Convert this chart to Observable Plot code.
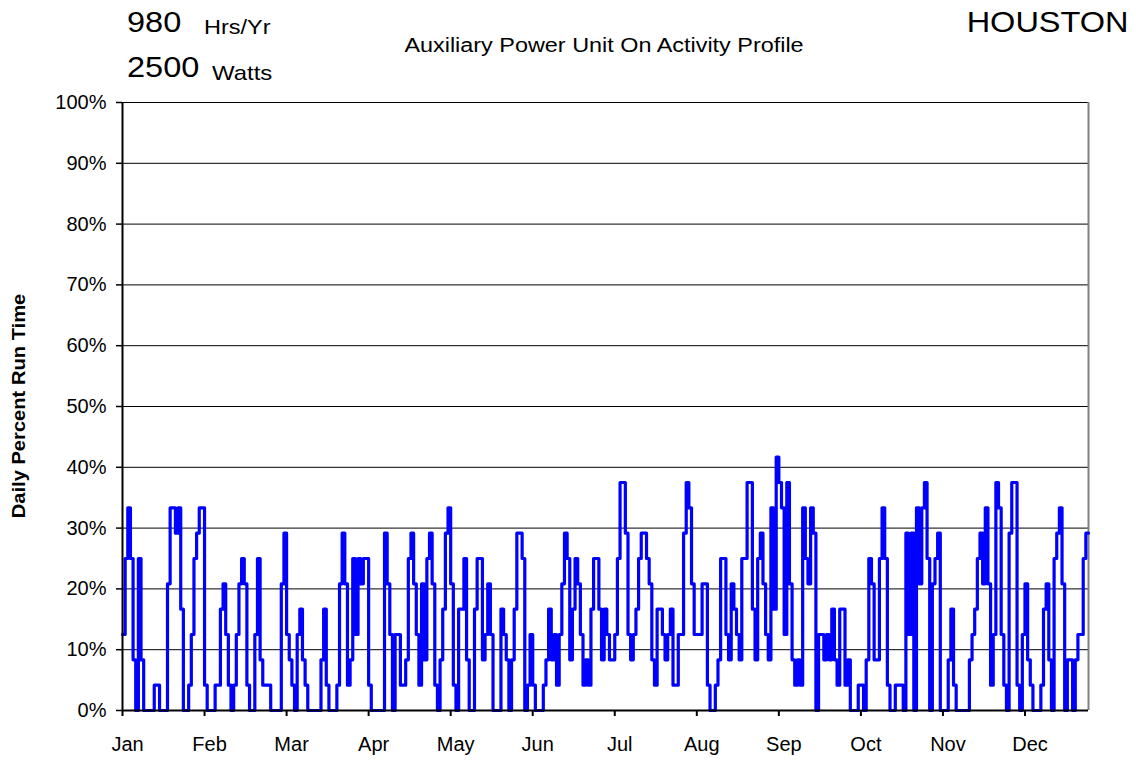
<!DOCTYPE html>
<html><head><meta charset="utf-8">
<script src="https://cdn.jsdelivr.net/npm/d3@7"></script>
<script src="https://cdn.jsdelivr.net/npm/@observablehq/plot@0.6"></script>
<style>
body{margin:0;background:#fff;}
#wrap{position:relative;width:1136px;height:762px;font-family:"Liberation Sans",Arial,sans-serif;color:#000;overflow:hidden;}
.t{position:absolute;white-space:nowrap;line-height:1;}
#chart{position:absolute;left:0;top:0;}
</style></head><body>
<div id="wrap">
<div id="chart"></div>
<div class="t" style="left:127px;top:8px;font-size:29px;transform:scaleX(1.12);transform-origin:left">980</div>
<div class="t" style="left:204px;top:16px;font-size:21px;transform:scaleX(1.12);transform-origin:left">Hrs/Yr</div>
<div class="t" style="left:127px;top:53px;font-size:29px;transform:scaleX(1.12);transform-origin:left">2500</div>
<div class="t" style="left:212px;top:62px;font-size:21px;transform:scaleX(1.14);transform-origin:left">Watts</div>
<div class="t" style="left:604px;top:35px;font-size:20px;transform:translateX(-50%) scaleX(1.17)">Auxiliary Power Unit On Activity Profile</div>
<div class="t" style="right:8px;top:8px;font-size:29px;transform:scaleX(1.12);transform-origin:right">HOUSTON</div>
<div class="t" style="left:18px;top:406px;font-size:19px;font-weight:bold;transform:translate(-50%,-50%) rotate(-90deg) scaleX(1.06)">Daily Percent Run Time</div>
</div>
<script>
// Daily run hours (out of 24) per month
const jan = [3,6,8,6,2,0,6,2,0,0, 0,0,1,1,0,0,0,5,8,8, 7,8,4,0,0,1,3,6,7,8, 8];
const feb = [1,0,0,0,1,1,4,5,3,1, 0,1,3,5,6,5,1,0,0,3, 6,2,1,1,1,0,0,0,0,5, 7];
const mar = [3,2,1,0,3,4,2,1,0,0, 0,0,0,2,4,1,0,0,0,1, 5,7,5,1,2,6,3,6,5,6, 6];
const apr = [1,0,0,0,0,0,7,5,3,0, 3,3,1,1,2,6,7,5,3,1, 5,2,6,7,5,1,0,2,4,7, 8];
const may = [5,1,0,4,4,6,2,0,0,4, 6,6,2,3,5,3,0,0,0,4, 3,2,0,2,4,7,7,6,0,1, 3];
const jun = [1,0,0,0,1,2,4,2,3,1, 3,5,7,6,2,4,6,5,3,1, 2,1,4,6,6,4,2,4,3,2, 2];
const jul = [3,6,9,9,7,3,2,3,4,6, 7,7,6,5,2,1,4,4,3,2, 3,4,1,1,3,3,7,9,8,5, 3];
const aug = [3,3,5,5,1,0,0,1,2,6, 6,3,2,5,4,3,2,6,6,9, 9,4,2,6,7,5,3,2,8,4, 10];
const sep = [9,8,3,9,5,2,1,2,1,8, 6,5,8,7,0,3,3,2,3,2, 4,2,1,4,4,1,2,0,0,0, 1];
const oct = [1,0,2,6,5,2,2,6,8,6, 1,0,0,1,1,1,0,7,3,7, 0,8,5,8,9,6,0,5,6,7, 0];
const nov = [0,0,2,4,1,0,0,0,0,0, 2,3,4,6,7,5,8,5,1,3, 9,8,3,1,0,7,9,9,1,0, 3];
const dec = [5,2,1,0,0,0,1,4,5,2, 0,6,7,8,5,0,2,2,0,2, 3,3,6,7];

const monthLabels = ["Jan","Feb","Mar","Apr","May","Jun","Jul","Aug","Sep","Oct","Nov","Dec"];
const daysPerLabel = 31;
const yTicks = [0,10,20,30,40,50,60,70,80,90,100];

const hours = [...jan,...feb,...mar,...apr,...may,...jun,...jul,...aug,...sep,...oct,...nov,...dec];
const data = hours.map((h,i)=>({day:i, pct:h/24*100}));
data.push({day:hours.length, pct:data[data.length-1].pct});
const monthTicks = monthLabels.map((m,i)=>i*daysPerLabel);

const chart = Plot.plot({
  width:1136, height:762,
  marginLeft:122, marginRight:48, marginTop:102, marginBottom:52,
  style:{fontFamily:"'Liberation Sans', Arial, sans-serif", fontSize:"20px", color:"#000", background:"transparent", overflow:"visible"},
  x:{domain:[0,hours.length]},
  y:{domain:[0,100]},
  marks:[
    Plot.ruleY(yTicks.slice(1), {stroke:"#000", strokeWidth:1}),
    Plot.ruleX([hours.length], {stroke:"#808080", strokeWidth:2}),
    Plot.lineY(data, {x:"day", y:"pct", curve:"step-after", stroke:"#0000ff", strokeWidth:3.2}),
    Plot.axisY({ticks:yTicks, tickFormat:d=>d+"%", tickSize:6, tickPadding:10, label:null, stroke:"#000", strokeWidth:1.5}),
    Plot.axisX({ticks:monthTicks, tickFormat:()=>"", tickSize:6, label:null, stroke:"#000", strokeWidth:2}),
    Plot.axisX({ticks:monthTicks, tickFormat:d=>monthLabels[monthTicks.indexOf(d)], tickSize:0, tickPadding:26, dx:5, label:null}),
    Plot.ruleX([monthTicks[0]], {stroke:"#000", strokeWidth:2}),
    Plot.ruleY([yTicks[0]], {stroke:"#000", strokeWidth:2})
  ]
});
document.getElementById("chart").appendChild(chart);
</script>
</body></html>
